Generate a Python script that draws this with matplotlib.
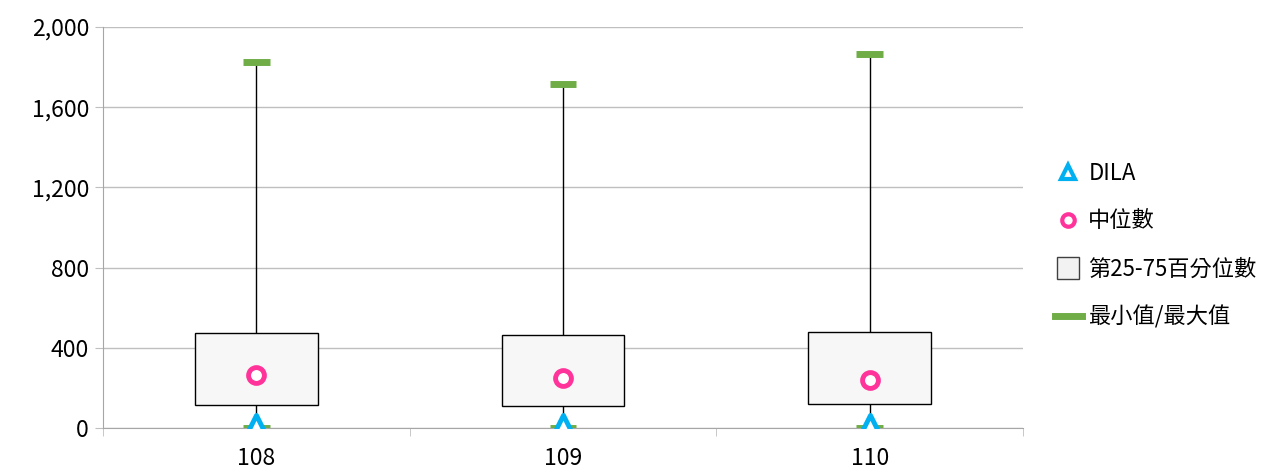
import matplotlib.pyplot as plt
from matplotlib.ticker import FuncFormatter
from matplotlib.lines import Line2D
import numpy as np

plt.rcParams['font.family'] = ['Noto Sans CJK TC', 'DejaVu Sans']

years = ["108", "109", "110"]
min_vals = [0, 0, 0]
q1_vals = [115, 111, 120]
median_vals = [264, 249, 239]
q3_vals = [474, 464, 477]
max_vals = [1825, 1716, 1865]
dila_vals = [18, 18, 18]
y_ticks = [0, 400, 800, 1200, 1600, 2000]

green = "#70AD47"
pink = "#FF3399"
cyan = "#00B0F0"
grid_gray = "#BFBFBF"

fig = plt.figure(figsize=(12.77, 4.73), dpi=100)
ax = fig.add_axes([103 / 1277, 45 / 473, 920 / 1277, 401 / 473])

x = np.arange(len(years))

# boxes (25-75 percentile)
ax.bar(x, np.array(q3_vals) - np.array(q1_vals), bottom=q1_vals, width=0.4,
       color="#F7F7F7", edgecolor="black", linewidth=1, zorder=3)
# whiskers
ax.vlines(x, q3_vals, max_vals, color="black", linewidth=1, zorder=2)
ax.vlines(x, min_vals, q1_vals, color="black", linewidth=1, zorder=2)
# min / max caps
ax.hlines(max_vals, x - 0.044, x + 0.044, color=green, linewidth=5, zorder=4)
ax.hlines(min_vals, x - 0.044, x + 0.044, color=green, linewidth=5, zorder=4)
# median
ax.scatter(x, median_vals, s=130, marker="o", facecolor="white", edgecolor=pink,
           linewidth=3.5, zorder=5)
# DILA
ax.scatter(x, dila_vals, s=170, marker="^", facecolor="white", edgecolor=cyan,
           linewidth=3.5, zorder=6)

ax.set_xlim(-0.5, len(years) - 0.5)
ax.set_ylim(0, 2000)
ax.set_yticks(y_ticks)
ax.yaxis.set_major_formatter(FuncFormatter(lambda v, p: f"{int(v):,}"))
ax.set_xticks(x)
ax.set_xticklabels(years)
ax.set_xticks(np.arange(len(years) + 1) - 0.5, minor=True)
ax.tick_params(axis="x", which="major", length=0, labelsize=16.5, pad=14)
ax.tick_params(axis="x", which="minor", length=6, color=grid_gray)
ax.tick_params(axis="y", length=6, color=grid_gray, labelsize=16.5, pad=4)
ax.grid(True, axis="y", color=grid_gray, linewidth=1, zorder=0)
ax.set_axisbelow(True)
for side in ["top", "right"]:
    ax.spines[side].set_visible(False)
ax.spines["left"].set_color("#A6A6A6")
ax.spines["bottom"].set_color("#A6A6A6")

handles = [
    Line2D([], [], marker="^", linestyle="none", markersize=10, markerfacecolor="white",
           markeredgecolor=cyan, markeredgewidth=3),
    Line2D([], [], marker="o", linestyle="none", markersize=9, markerfacecolor="white",
           markeredgecolor=pink, markeredgewidth=3),
    Line2D([], [], marker="s", linestyle="none", markersize=16, markerfacecolor="#F2F2F2",
           markeredgecolor="#404040", markeredgewidth=1),
    Line2D([], [], color=green, linewidth=5),
]
labels = ["DILA", "中位數", "第25-75百分位數", "最小值/最大值"]
fig.legend(handles, labels, loc="center left", bbox_to_anchor=(1055 / 1277, 1 - 245 / 473),
           frameon=False, fontsize=16, labelspacing=1.12, handlelength=1.2,
           handletextpad=0.3, borderaxespad=0, borderpad=0)

plt.savefig("out.png", dpi=100)
